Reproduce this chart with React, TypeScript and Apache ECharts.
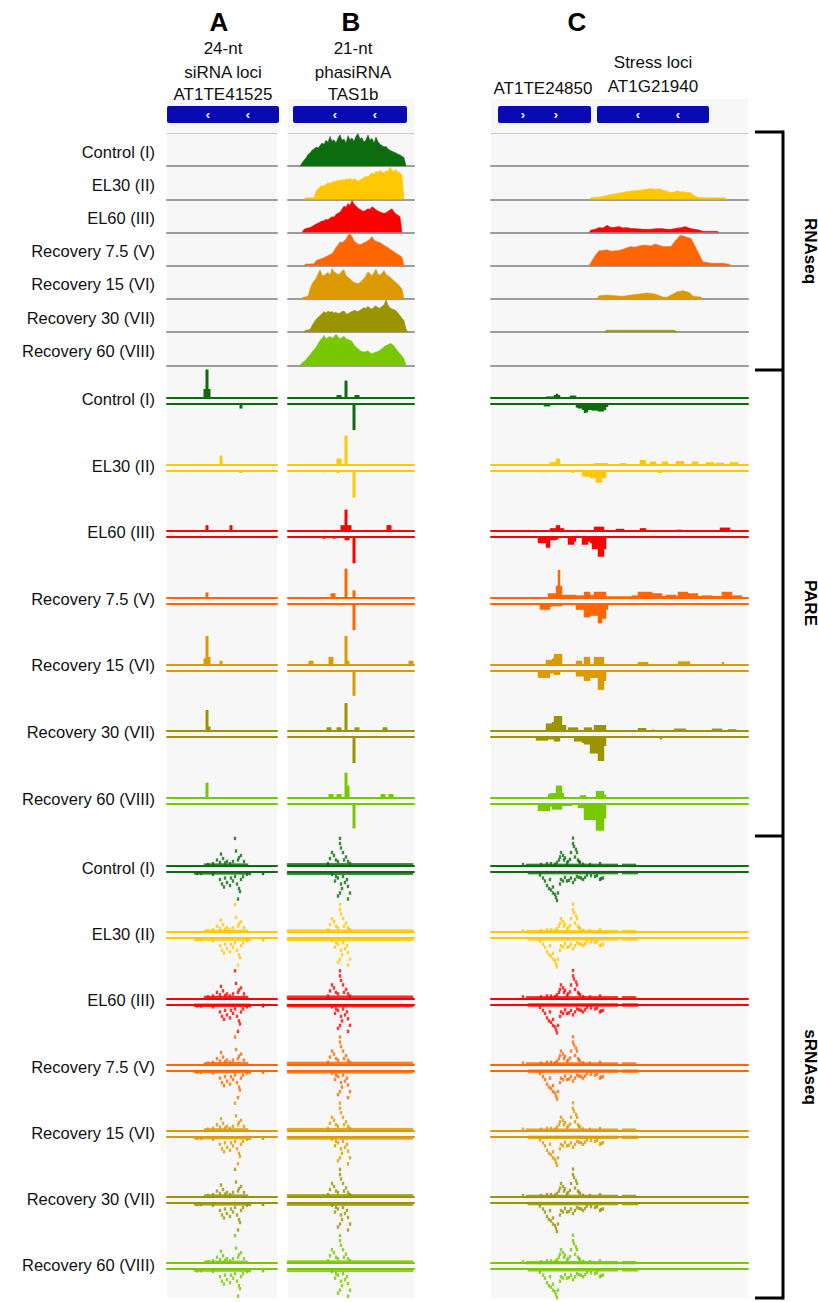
import React, { useEffect, useRef } from "react";
import * as echarts from "echarts";

// ---------------- DATA ----------------
const conditions = [
  "Control (I)",
  "EL30 (II)",
  "EL60 (III)",
  "Recovery 7.5 (V)",
  "Recovery 15 (VI)",
  "Recovery 30 (VII)",
  "Recovery 60 (VIII)",
];
const conditionColors = ["#0d6c0f", "#ffc800", "#ff0000", "#ff6600", "#dc9a00", "#9a9400", "#78c800"];
const sectionNames = ["RNAseq", "PARE", "sRNAseq"];
const panelLetters = ["A", "B", "C"];
const panelSubtitlesA = ["24-nt", "siRNA loci", "AT1TE41525"];
const panelSubtitlesB = ["21-nt", "phasiRNA", "TAS1b"];
const panelSubtitlesC = ["Stress loci", "AT1G21940"];
const panelSubtitleC2 = "AT1TE24850";

// RNAseq coverage, [bin, % of track height]
const rnaA: number[][][] = [[], [], [], [], [], [], []];
const rnaB: number[][][] = [
  [[6,0],[7,10],[8,18],[9,25],[10,35],[11,40],[12,48],[13,52],[14,58],[15,55],[16,62],[17,70],[18,66],[19,78],[20,72],[21,90],[22,75],[23,80],[24,70],[25,85],[26,95],[27,78],[28,82],[29,70],[30,92],[31,80],[32,85],[33,75],[34,90],[35,98],[36,82],[37,86],[38,72],[39,80],[40,94],[41,78],[42,84],[43,70],[44,88],[45,74],[46,66],[47,62],[48,58],[49,60],[50,52],[51,48],[52,45],[53,42],[54,40],[55,36],[56,34],[57,30],[58,26],[59,0]],
  [[8,0],[8.5,5],[13,5],[14,25],[15,32],[16,38],[17,42],[18,40],[19,46],[20,50],[21,48],[22,52],[23,55],[24,54],[25,58],[26,56],[27,60],[28,58],[29,62],[30,60],[31,64],[32,58],[33,62],[34,60],[35,55],[36,58],[37,62],[38,66],[39,70],[40,68],[41,75],[42,80],[43,76],[44,85],[45,80],[46,88],[47,82],[48,80],[49,86],[50,84],[51,98],[52,88],[53,84],[54,90],[55,82],[56,80],[57,72],[58,0]],
  [[7,0],[8,10],[9,12],[10,14],[11,15],[12,18],[13,22],[14,26],[15,28],[16,32],[17,35],[18,36],[19,40],[20,38],[21,44],[22,48],[23,46],[24,55],[25,58],[26,62],[27,70],[28,80],[29,76],[30,88],[31,82],[32,97],[33,86],[34,80],[35,74],[36,70],[37,66],[38,64],[39,68],[40,72],[41,70],[42,78],[43,74],[44,68],[45,66],[46,62],[47,60],[48,58],[49,60],[50,64],[51,68],[52,72],[53,62],[54,56],[55,52],[56,48],[57,0]],
  [[8,0],[8.5,5],[13,6],[14,15],[15,18],[16,20],[17,22],[18,24],[19,28],[20,30],[21,34],[22,36],[23,45],[24,55],[25,62],[26,72],[27,70],[28,74],[29,80],[30,92],[31,96],[32,88],[33,75],[34,70],[35,66],[36,64],[37,66],[38,70],[39,72],[40,76],[41,80],[42,88],[43,78],[44,74],[45,72],[46,70],[47,66],[48,62],[49,58],[50,55],[51,50],[52,46],[53,42],[54,38],[55,34],[56,30],[57,26],[58,0]],
  [[7,0],[7.5,5],[10,8],[11,30],[12,45],[13,55],[14,62],[15,75],[16,88],[17,72],[18,70],[19,76],[20,80],[21,72],[22,92],[23,82],[24,78],[25,74],[26,76],[27,84],[28,88],[29,70],[30,66],[31,60],[32,55],[33,50],[34,48],[35,46],[36,50],[37,56],[38,62],[39,70],[40,82],[41,76],[42,70],[43,80],[44,90],[45,74],[46,72],[47,78],[48,86],[49,74],[50,70],[51,66],[52,60],[53,55],[54,50],[55,44],[56,38],[57,30],[58,0]],
  [[8,0],[8.5,5],[11,8],[12,20],[13,30],[14,38],[15,45],[16,50],[17,56],[18,62],[19,58],[20,64],[21,60],[22,62],[23,58],[24,60],[25,56],[26,58],[27,62],[28,64],[29,56],[30,55],[31,60],[32,62],[33,66],[34,64],[35,62],[36,66],[37,70],[38,74],[39,72],[40,78],[41,72],[42,70],[43,76],[44,80],[45,74],[46,72],[47,78],[48,82],[49,98],[50,82],[51,74],[52,70],[53,68],[54,65],[55,58],[56,50],[57,42],[58,35],[59,10],[60,0]],
  [[6,0],[6.5,5],[8,12],[9,18],[10,25],[11,32],[12,40],[13,48],[14,55],[15,65],[16,75],[17,82],[18,90],[19,80],[20,84],[21,88],[22,82],[23,86],[24,94],[25,86],[26,80],[27,84],[28,88],[29,80],[30,78],[31,76],[32,72],[33,62],[34,55],[35,50],[36,45],[37,42],[38,40],[39,42],[40,44],[41,38],[42,35],[43,38],[44,40],[45,42],[46,46],[47,50],[48,56],[49,60],[50,62],[51,66],[52,64],[53,58],[54,50],[55,42],[56,35],[57,28],[58,20],[59,0]],
];
const rnaC: number[][][] = [
  [],
  [[49,0],[50,5],[55,8],[58,12],[60,15],[63,18],[65,20],[68,24],[70,25],[73,27],[75,28],[78,31],[80,33],[82,30],[84,32],[86,28],[88,25],[90,20],[92,24],[93,26],[95,22],[96,24],[98,20],[99,22],[101,14],[102,10],[104,6],[110,5],[117,5],[118,0]],
  [[49,0],[50,8],[52,10],[54,15],[56,14],[58,22],[60,15],[62,16],[64,18],[66,14],[68,15],[70,12],[72,12],[76,10],[80,10],[83,12],[85,12],[88,10],[90,10],[92,12],[94,14],[96,16],[97,18],[99,14],[100,12],[102,10],[104,8],[106,4],[113,4],[114,0]],
  [[49,0],[50,10],[52,30],[54,45],[56,46],[58,48],[60,44],[62,45],[64,46],[66,50],[68,54],[70,58],[72,56],[74,60],[76,62],[78,62],[80,60],[82,66],[84,62],[86,58],[88,58],[90,58],[92,75],[93,80],[94,88],[95,92],[96,90],[97,88],[98,86],[100,82],[102,60],[104,35],[106,12],[110,8],[116,8],[119,5],[120,0]],
  [[53,0],[54,10],[58,12],[62,10],[66,8],[70,12],[74,15],[78,18],[82,15],[86,6],[88,5],[90,12],[93,22],[96,25],[99,20],[101,8],[105,6],[106,0]],
  [[57,0],[57.5,6],[92,6],[93,0]],
  [],
];

// PARE peaks, segments [startBin, endBin, % of half-track height]
const pareAPlus: number[][][] = [
  [[19,19,30],[20,20,95],[21,21,30]],
  [[27,27,30]],
  [[20,20,20],[32,32,20]],
  [[20,20,18]],
  [[19,19,20],[20,20,95],[21,21,25],[27,27,12]],
  [[20,20,70],[21,21,15]],
  [[20,20,50]],
];
const pareAMinus: number[][][] = [[[37,37,15]], [[37,37,8]], [], [], [], [], []];
const pareBPlus: number[][][] = [
  [[25,26,10],[29,29,58],[34,35,10]],
  [[25,26,20],[29,29,97]],
  [[27,28,20],[29,29,72],[30,31,20],[50,51,20]],
  [[22,23,15],[29,29,97],[33,33,25]],
  [[11,12,12],[21,22,25],[29,29,95],[30,30,12],[61,62,12]],
  [[20,21,12],[25,26,12],[29,29,93],[34,35,12],[48,49,12]],
  [[21,22,12],[25,26,12],[29,29,83],[30,30,40],[47,48,12],[51,52,12]],
];
const pareBMinus: number[][][] = [
  [[33,33,87]],
  [[18,18,5],[25,25,8],[33,33,90]],
  [[18,18,5],[23,23,5],[29,30,10],[33,33,87]],
  [[25,25,5],[33,33,88]],
  [[33,33,85]],
  [[33,33,87]],
  [[33,33,83]],
];
const pareCPlus: number[][][] = [
  [[28,31,5],[32,32,10],[33,33,14],[34,34,10],[40,42,8]],
  [[30,32,8],[33,34,20],[52,58,5],[65,67,5],[75,77,15],[80,82,10],[86,88,10],[93,96,12],[101,103,10],[108,111,8],[113,116,6],[120,123,8]],
  [[30,32,10],[33,34,20],[35,36,10],[52,56,15],[63,66,8],[75,77,10],[93,95,5],[115,119,12]],
  [[29,32,15],[33,33,40],[34,34,93],[35,35,40],[36,38,10],[39,42,10],[43,46,8],[47,49,20],[50,51,10],[52,57,20],[58,70,5],[71,73,8],[74,80,20],[81,85,15],[86,87,6],[88,92,10],[93,93,6],[94,98,20],[99,103,15],[104,105,6],[106,110,8],[111,115,6],[116,120,20],[121,125,8]],
  [[28,30,15],[31,31,20],[32,35,35],[43,45,12],[47,49,25],[52,56,25],[74,78,8],[94,99,10],[116,116,8]],
  [[28,30,25],[31,31,30],[32,35,50],[36,37,20],[39,43,12],[47,50,12],[52,57,20],[74,77,10],[81,81,5],[92,97,8],[111,115,8],[119,122,6]],
  [[29,29,12],[30,32,15],[33,35,40],[36,36,15],[45,47,8],[53,56,22],[57,57,10]],
];
const pareCMinus: number[][][] = [
  [[27,29,8],[43,43,12],[44,45,15],[46,46,20],[47,47,30],[48,48,28],[49,50,20],[51,53,22],[54,56,25],[57,57,20],[58,58,10]],
  [[25,28,5],[33,33,5],[41,41,8],[46,49,20],[50,52,25],[53,55,40],[56,57,25],[84,85,8]],
  [[24,27,20],[28,29,35],[30,32,10],[33,33,8],[39,41,25],[42,42,15],[46,48,25],[49,49,15],[50,50,20],[51,53,40],[54,56,65],[57,57,40]],
  [[25,29,20],[30,30,10],[31,35,8],[43,46,20],[47,49,45],[50,53,40],[54,55,65],[56,57,50],[58,58,20]],
  [[24,29,25],[30,31,10],[32,34,15],[43,46,20],[47,49,35],[50,53,25],[54,56,65],[57,57,35]],
  [[23,28,12],[29,31,8],[32,34,15],[42,45,15],[46,46,20],[47,49,25],[50,53,55],[54,56,80],[57,57,30],[85,85,8]],
  [[24,29,25],[30,30,10],[31,35,20],[36,40,8],[44,46,15],[47,49,55],[50,52,55],[53,56,90],[57,57,50]],
];

// sRNAseq read points, [bin, % of half-track height]
const srnaAPlus = [[34,92],[34.5,50],[36,28],[27,40],[28,25],[26.5,12],[25,20],[23,8],[20.5,5],[29,10],[30,15],[31.5,8],[33,15],[35.5,20],[37,35],[38.5,15]];
const srnaAMinus = [[15,5],[17,5],[23,8],[26.5,25],[27.5,40],[28.5,50],[29,20],[30,35],[31.5,45],[32,20],[33,30],[34,15],[35,40],[35.5,90],[36,55],[36.5,65],[37,25],[38,15],[40,8],[41.5,5],[48,5]];
const srnaBPlus = [[20,8],[21,25],[22,45],[23,35],[24,20],[25,15],[26,75],[26,92],[26.5,60],[27.5,45],[28,20],[29,30],[30,15],[31,8]];
const srnaBMinus = [[22,8],[23.5,30],[24,15],[25,20],[25,80],[26,70],[26.5,40],[27,55],[27.5,15],[28.5,35],[29.5,25],[30,48],[30,90],[31,70]];
const srnaCPlus = [[16,5],[25,5],[28,8],[30,8],[32,6],[33,12],[34,20],[34.5,30],[35,45],[36,35],[36.5,20],[37,27],[38,10],[38.5,15],[39.5,22],[40,45],[41,93],[41,75],[41.5,65],[42,30],[42.5,55],[43,45],[43.5,20],[44,15],[44.5,12],[46,6],[49.5,5],[54.5,8]];
const srnaCMinus = [[24.5,10],[26,20],[27,30],[28,45],[29,55],[29.5,25],[30,60],[31,50],[31,70],[32,75],[32.5,85],[33,95],[33.5,70],[34.5,40],[35,25],[36,30],[37,18],[38,30],[39,28],[40,20],[41,35],[42,25],[43,15],[44,18],[45,20],[46,25],[47,18],[48,10],[50,12],[52,15],[53,12],[54.5,25],[55,22],[56,20]];
// low-level background reads along the strand lines, segments [start, end, %]
const srnaAPlusBand = [[19,40,3]];
const srnaAMinusBand = [[14,41,3],[48,48,3]];
const srnaBPlusBand = [[0,62,4]];
const srnaBMinusBand = [[0,62,4]];
const srnaCPlusBand = [[18,63,2],[66,72,2]];
const srnaCMinusBand = [[19,63,2],[66,73,2]];

// ---------------- LAYOUT ----------------
const FONT = '"Liberation Sans", Arial, Helvetica, sans-serif';
const colLeft = [167, 288, 491];
const colWidth = [110, 126, 257];
const colBins = colWidth.map((w) => w / 2);
const rnaTop = 133;
const rnaRowH = 33.2;
const pareC0 = 401;
const pareStep = 66.6;
const srnaC0 = 869;
const srnaStep = 66.2;
const halfH = 30;
const gap = 3;

function expandSegs(segs: number[][]): number[][] {
  const out: number[][] = [];
  segs.forEach(([s, e, v]) => {
    for (let b = s; b <= e; b++) out.push([b, v]);
  });
  return out;
}

function buildOption() {
  const grids: any[] = [];
  const xAxes: any[] = [];
  const yAxes: any[] = [];
  const series: any[] = [];

  const hiddenAxisBits = {
    axisTick: { show: false },
    axisLabel: { show: false },
    splitLine: { show: false },
  };

  function addTrack(
    col: number,
    top: number,
    height: number,
    axisPos: string,
    lineColor: string,
    lineWidth: number,
    inverse: boolean,
    s: any,
    topLine?: string
  ) {
    const gi = grids.length;
    grids.push({ left: colLeft[col], top, width: colWidth[col], height, show: false });
    const xi = xAxes.length;
    xAxes.push({
      gridIndex: gi,
      type: "value",
      min: 0,
      max: colBins[col],
      position: axisPos,
      axisLine: { show: true, onZero: false, lineStyle: { color: lineColor, width: lineWidth } },
      ...hiddenAxisBits,
    });
    if (topLine) {
      xAxes.push({
        gridIndex: gi,
        type: "value",
        min: 0,
        max: colBins[col],
        position: "top",
        axisLine: { show: true, onZero: false, lineStyle: { color: topLine, width: 1 } },
        ...hiddenAxisBits,
      });
    }
    const yi = yAxes.length;
    yAxes.push({ gridIndex: gi, type: "value", min: 0, max: 100, inverse, show: false });
    if (s) series.push({ ...s, xAxisIndex: xi, yAxisIndex: yi, silent: true });
  }

  const rnaData = [rnaA, rnaB, rnaC];
  const parePlus = [pareAPlus, pareBPlus, pareCPlus];
  const pareMinus = [pareAMinus, pareBMinus, pareCMinus];
  const srnaPlus = [srnaAPlus, srnaBPlus, srnaCPlus];
  const srnaMinus = [srnaAMinus, srnaBMinus, srnaCMinus];
  const srnaPlusBand = [srnaAPlusBand, srnaBPlusBand, srnaCPlusBand];
  const srnaMinusBand = [srnaAMinusBand, srnaBMinusBand, srnaCMinusBand];

  for (let col = 0; col < 3; col++) {
    for (let i = 0; i < conditions.length; i++) {
      const color = conditionColors[i];
      // RNAseq
      const d = rnaData[col][i];
      addTrack(
        col,
        rnaTop + rnaRowH * i,
        rnaRowH,
        "bottom",
        "#9c9c9c",
        2,
        false,
        d.length
          ? {
              type: "line",
              data: d,
              symbol: "none",
              lineStyle: { width: 0.5, color },
              areaStyle: { color, opacity: 1 },
            }
          : null,
        i === 0 ? "#c9c9d6" : undefined
      );
      // PARE
      const pc = pareC0 + pareStep * i;
      const bw = col === 2 ? 2.4 : 3;
      addTrack(col, pc - gap - halfH, halfH, "bottom", color, 2, false, {
        type: "bar",
        data: expandSegs(parePlus[col][i]),
        barWidth: bw,
        itemStyle: { color },
      });
      addTrack(col, pc + gap, halfH, "top", color, 2, true, {
        type: "bar",
        data: expandSegs(pareMinus[col][i]),
        barWidth: bw,
        itemStyle: { color },
      });
      // sRNAseq
      const sc = srnaC0 + srnaStep * i;
      addTrack(col, sc - gap - halfH, halfH, "bottom", color, 2, false, {
        type: "scatter",
        data: [...srnaPlus[col], ...expandSegs(srnaPlusBand[col])],
        symbol: "rect",
        symbolSize: [2.4, 3.4],
        itemStyle: { color },
        clip: false,
      });
      addTrack(col, sc + gap, halfH, "top", color, 2, true, {
        type: "scatter",
        data: [...srnaMinus[col], ...expandSegs(srnaMinusBand[col])],
        symbol: "rect",
        symbolSize: [2.4, 3.4],
        itemStyle: { color },
        clip: false,
      });
    }
  }

  // ---------- graphic decorations ----------
  const g: any[] = [];
  // panel backgrounds
  for (let col = 0; col < 3; col++) {
    g.push({
      type: "rect",
      z: -10,
      silent: true,
      shape: { x: colLeft[col], y: 99, width: colWidth[col], height: 1199 },
      style: { fill: "#f7f7f7" },
    });
  }
  // header letters
  const letterX = [219, 351, 577];
  panelLetters.forEach((t, k) => {
    g.push({
      type: "text",
      x: letterX[k],
      y: 22,
      style: { text: t, font: `bold 26px ${FONT}`, fill: "#000", align: "center", verticalAlign: "middle" },
    });
  });
  const subY = [48, 72, 94];
  panelSubtitlesA.forEach((t, k) =>
    g.push({ type: "text", x: 223, y: subY[k], style: { text: t, font: `17px ${FONT}`, fill: "#111", align: "center", verticalAlign: "middle" } })
  );
  panelSubtitlesB.forEach((t, k) =>
    g.push({ type: "text", x: 353, y: subY[k], style: { text: t, font: `17px ${FONT}`, fill: "#111", align: "center", verticalAlign: "middle" } })
  );
  const subCY = [62, 86];
  panelSubtitlesC.forEach((t, k) =>
    g.push({ type: "text", x: 653, y: subCY[k], style: { text: t, font: `17px ${FONT}`, fill: "#111", align: "center", verticalAlign: "middle" } })
  );
  g.push({ type: "text", x: 543, y: 88, style: { text: panelSubtitleC2, font: `17px ${FONT}`, fill: "#111", align: "center", verticalAlign: "middle" } });

  // gene annotation bars
  const genes = [
    { x: 167, w: 112, arrows: [208, 248], glyph: "‹" },
    { x: 293, w: 114, arrows: [335, 375], glyph: "‹" },
    { x: 498, w: 93, arrows: [523, 556], glyph: "›" },
    { x: 597, w: 112, arrows: [638, 678], glyph: "‹" },
  ];
  genes.forEach((ge) => {
    g.push({ type: "rect", shape: { x: ge.x, y: 106, width: ge.w, height: 17, r: 2 }, style: { fill: "#0a0ab4" } });
    ge.arrows.forEach((ax) =>
      g.push({ type: "text", x: ax, y: 114, style: { text: ge.glyph, font: `bold 13px ${FONT}`, fill: "#fff", align: "center", verticalAlign: "middle" } })
    );
  });

  // row labels
  for (let i = 0; i < conditions.length; i++) {
    const ys = [rnaTop + rnaRowH * i + rnaRowH / 2 + 2, pareC0 + pareStep * i - 2, srnaC0 + srnaStep * i - 1];
    ys.forEach((y) =>
      g.push({ type: "text", x: 155, y, style: { text: conditions[i], font: `16.5px ${FONT}`, fill: "#111", align: "right", verticalAlign: "middle" } })
    );
  }

  // section brackets
  const brX = 783;
  const bounds = [132, 370, 836, 1298];
  g.push({ type: "line", shape: { x1: brX, y1: bounds[0] - 1.5, x2: brX, y2: bounds[3] + 1.5 }, style: { stroke: "#000", lineWidth: 3 } });
  bounds.forEach((y) => g.push({ type: "line", shape: { x1: 755, y1: y, x2: brX, y2: y }, style: { stroke: "#000", lineWidth: 3 } }));
  sectionNames.forEach((t, k) => {
    g.push({
      type: "text",
      x: 810,
      y: (bounds[k] + bounds[k + 1]) / 2,
      rotation: -Math.PI / 2,
      style: { text: t, font: `bold 17px ${FONT}`, fill: "#000", align: "center", verticalAlign: "middle" },
    });
  });

  return {
    animation: false,
    backgroundColor: "#ffffff",
    grid: grids,
    xAxis: xAxes,
    yAxis: yAxes,
    series,
    graphic: { elements: g },
  };
}

export default function App() {
  const ref = useRef<HTMLDivElement>(null);
  useEffect(() => {
    if (!ref.current) return;
    const chart = echarts.init(ref.current, undefined, { renderer: "svg" });
    chart.setOption(buildOption() as any);
    return () => chart.dispose();
  }, []);
  return (
    <div
      ref={ref}
      style={{ position: "absolute", left: 0, top: 0, width: 818, height: 1302, background: "#fff" }}
    />
  );
}
